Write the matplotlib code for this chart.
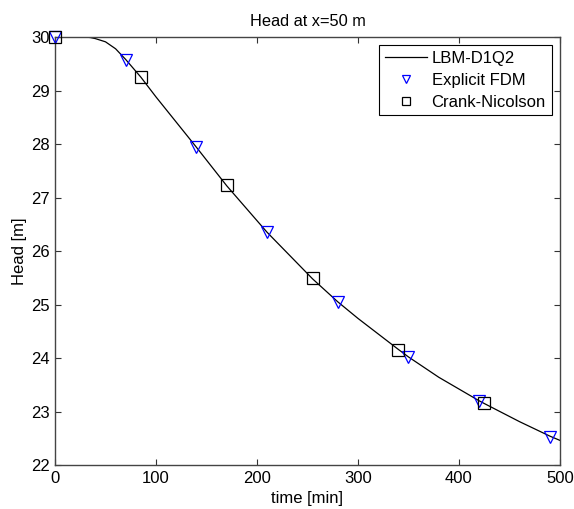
import matplotlib
matplotlib.use("Agg")
import matplotlib.pyplot as plt

plt.rcParams['font.family'] = ['Liberation Sans', 'DejaVu Sans']

# LBM-D1Q2 curve
t_lbm = [0, 10, 20, 30, 35, 40, 50, 60, 70, 85, 100, 120, 140, 170, 210, 255,
         280, 300, 340, 350, 380, 420, 425, 460, 490, 500]
h_lbm = [30.0, 30.0, 30.0, 30.0, 29.99, 29.97, 29.91, 29.78, 29.58, 29.25, 28.88,
         28.41, 27.94, 27.22, 26.35, 25.48, 25.05, 24.74, 24.16, 24.02, 23.64,
         23.2, 23.15, 22.81, 22.54, 22.46]

# Explicit FDM
t_fdm = [0, 70, 140, 210, 280, 350, 420, 490]
h_fdm = [30.0, 29.57, 27.94, 26.35, 25.05, 24.02, 23.2, 22.53]

# Crank-Nicolson
t_cn = [0, 85, 170, 255, 340, 425]
h_cn = [30.0, 29.25, 27.23, 25.49, 24.15, 23.16]

xticks = [0, 100, 200, 300, 400, 500]
yticks = [22, 23, 24, 25, 26, 27, 28, 29, 30]

fig = plt.figure(figsize=(5.74, 5.09), dpi=100)
ax = fig.add_axes([0.0958, 0.0864, 0.8798, 0.8409])

ax.plot(t_lbm, h_lbm, color='black', lw=0.9, label='LBM-D1Q2')
ax.plot(t_fdm, h_fdm, linestyle='none', marker='v', markersize=8,
        markerfacecolor='none', markeredgecolor='blue', markeredgewidth=0.9,
        label='Explicit FDM', clip_on=False, zorder=4)
ax.plot(t_cn, h_cn, linestyle='none', marker='s', markersize=8,
        markerfacecolor='none', markeredgecolor='black', markeredgewidth=0.9,
        label='Crank-Nicolson', clip_on=False, zorder=4)

ax.set_xlim(0, 500)
ax.set_ylim(22, 30)
ax.set_xticks(xticks)
ax.set_yticks(yticks)
ax.tick_params(direction='in', top=True, right=True, labelsize=12, length=4,
               color='#333333', pad=4)
for s in ax.spines.values():
    s.set_color('#444444')
    s.set_linewidth(1.0)

ax.set_title('Head at x=50 m', fontsize=11.8, pad=8)
ax.set_xlabel('time [min]', fontsize=12, labelpad=4)
ax.set_ylabel('Head [m]', fontsize=12, labelpad=3)

leg = ax.legend(loc='upper right', fontsize=12, fancybox=False, framealpha=1,
                edgecolor='black', borderaxespad=0.5, handlelength=2.5,
                labelspacing=0.4, borderpad=0.35, handletextpad=0.3,
                markerscale=0.8)
leg.get_frame().set_linewidth(0.8)

fig.savefig('out.png', dpi=100)
